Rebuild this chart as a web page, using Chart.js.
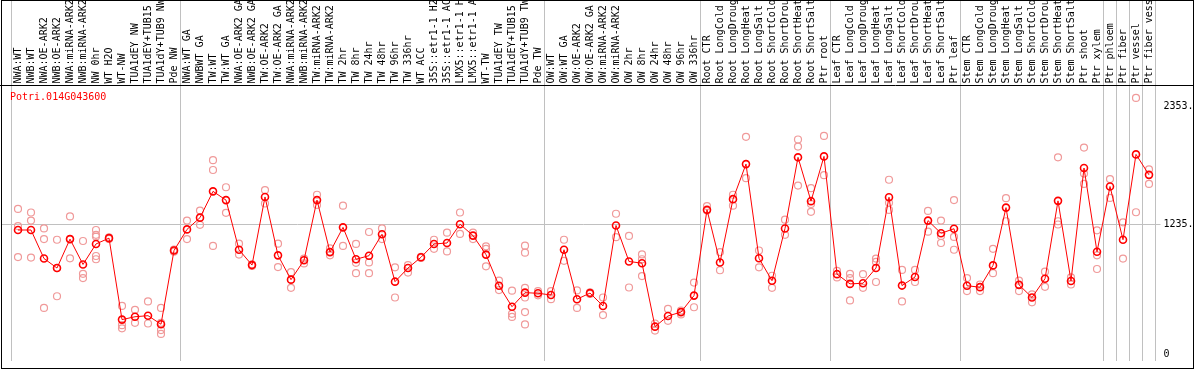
<!DOCTYPE html>
<html>
<head>
<meta charset="utf-8">
<script src="https://cdn.jsdelivr.net/npm/chart.js@4"></script>
<style>
  body { margin: 0; background: #fff; }
  canvas { display: block; }
</style>
</head>
<body>
<canvas id="expr-chart" width="1194" height="370"></canvas>
<script>
// sample labels, left to right
const samples = [
    'NWA:WT', 'NWB:WT', 'NWA:OE-ARK2', 'NWB:OE-ARK2', 'NWA:miRNA-ARK2', 'NWB:miRNA-ARK2', 'NW 0hr', 'WT H2O', 'WT-NW',
    'TUA1dEY NW', 'TUA1dEY+TUB15 NW', 'TUA1dY+TUB9 NW', 'Pde NW',
    'NWA:WT GA', 'NWBWT GA', 'TW:WT', 'TW:WT GA', 'NWA:OE-ARK2 GA', 'NWB:OE-ARK2 GA', 'TW:OE-ARK2', 'TW:OE-ARK2 GA',
    'NWA:miRNA-ARK2 GA', 'NWB:miRNA-ARK2 GA', 'TW:miRNA-ARK2', 'TW:miRNA-ARK2 GA', 'TW 2hr', 'TW 8hr', 'TW 24hr',
    'TW 48hr', 'TW 96hr', 'TW 336hr', 'WT ACC', '35S::etr1-1 H2O', '35S::etr1-1 ACC', 'LMX5::etr1-1 H2O',
    'LMX5::etr1-1 ACC', 'WT-TW', 'TUA1dEY TW', 'TUA1dEY+TUB15 TW', 'TUA1dY+TUB9 TW', 'Pde TW',
    'OW:WT', 'OW:WT GA', 'OW:OE-ARK2', 'OW:OE-ARK2 GA', 'OW:miRNA-ARK2', 'OW:miRNA-ARK2 GA', 'OW 2hr', 'OW 8hr',
    'OW 24hr', 'OW 48hr', 'OW 96hr', 'OW 336hr',
    'Root CTR', 'Root LongCold', 'Root LongDrought', 'Root LongHeat', 'Root LongSalt', 'Root ShortCold',
    'Root ShortDrought', 'Root ShortHeat', 'Root ShortSalt', 'Ptr root',
    'Leaf CTR', 'Leaf LongCold', 'Leaf LongDrought', 'Leaf LongHeat', 'Leaf LongSalt', 'Leaf ShortCold',
    'Leaf ShortDrought', 'Leaf ShortHeat', 'Leaf ShortSalt', 'Ptr leaf',
    'Stem CTR', 'Stem LongCold', 'Stem LongDrought', 'Stem LongHeat', 'Stem LongSalt', 'Stem ShortCold',
    'Stem ShortDrought', 'Stem ShortHeat', 'Stem ShortSalt', 'Ptr shoot', 'Ptr xylem',
    'Ptr phloem', 'Ptr fiber', 'Ptr vessel', 'Ptr fiber vessel'
];

// index of the first sample of each group (grey separators)
const groupStarts = [0, 13, 41, 53, 63, 73, 84, 85, 86, 87];

const geneName = 'Potri.014G043600';

// mean expression
const means = [
    1180, 1180, 910, 820, 1094, 854, 1048, 1103, 332, 359, 369, 288, 986,
    1186, 1297, 1546, 1463, 993, 848, 1493, 940, 710, 894, 1463, 971, 1205, 903, 937,
    1140, 691, 820, 922, 1048, 1057, 1235, 1127, 947, 652, 454, 587, 581,
    565, 993, 525, 583, 461, 1223, 882, 866, 265, 366, 403, 559,
    1371, 873, 1472, 1804, 912, 700, 1195, 1868, 1453, 1877,
    762, 670, 676, 820, 1490, 654, 735, 1269, 1149, 1192,
    652, 639, 845, 1392, 661, 541, 719, 1456, 698, 1767, 974,
    1592, 1088, 1896, 1702
];

// replicates
const rep1 = [
    1380, 1346, 1195, 1088, 1309, 1076, 1180, 1110, 461, 424, 504, 442, 990,
    1269, 1364, 1841, 1585, 1051, 848, 1558, 1051, 781, 910, 1514, 1007, 1410, 1048, 1161,
    1195, 827, 848, 925, 1088, 1155, 1346, 1155, 1026, 700, 606, 1032, 602,
    602, 1088, 608, 590, 541, 1334, 1124, 949, 295, 433, 418, 682,
    1407, 971, 1514, 2062, 986, 747, 1278, 2037, 1576, 2071,
    793, 765, 762, 910, 1656, 802, 802, 1361, 1269, 1463,
    725, 664, 1002, 1481, 700, 571, 786, 1868, 731, 1960, 1177,
    1662, 1253, 2430, 1754
];
const rep2 = [
    1217, 1269, 1094, 553, 912, 765, 1134, 1095, 279, 301, 295, 301, 975,
    1094, 1229, 1748, 1343, 947, 840, 1431, 829, 633, 864, 1417, 940, 1029, 869, 873,
    1094, 541, 777, 915, 1002, 977, 1143, 1094, 1002, 611, 387, 965, 562,
    525, 888, 442, 575, 375, 1112, 636, 903, 228, 320, 381, 449,
    1364, 799, 1410, 1671, 827, 633, 1134, 1970, 1426, 1699,
    731, 725, 633, 878, 1438, 504, 688, 1164, 1124, 1115,
    602, 602, 771, 1263, 602, 495, 642, 1263, 664, 1714, 940,
    1484, 910, 1348, 1616
];
const rep3 = [
    924, 919, 442, 820, 1094, 725, 1118, null, 249, null, null, 233, 995,
    null, null, 1029, null, null, 855, null, null, null, null, null, null, null, 771, 771,
    null, null, null, null, null, null, null, null, 836, null, 357, 633, null,
    null, null, null, null, null, null, null, 744, null, null, null, null,
    null, null, null, null, null, null, null, 1601, 1352, null,
    null, 513, null, 688, 1370, null, null, null, 1057, 993,
    null, null, null, null, null, null, null, 1232, null, 1616, 811,
    null, null, null, null
];
// a few samples with more replicates
const extraIdx = [6, 6, 11, 39, 39, 39];
const extraVal = [934, 903, 196, 541, 403, 286];

const yTicks = [0, 1235, 2353];
const yTickLabels = ['0', '1235.', '2353.'];

var monoFont = { family: "'DejaVu Sans Mono', 'Liberation Mono', monospace", size: 10 };
var grey = '#c0c0c0';
var pink = '#f09a9a';

function repDataset(data) {
    return {
        data: data,
        showLine: false,
        pointRadius: 3.5,
        pointBorderWidth: 1.2,
        pointBorderColor: pink,
        pointBackgroundColor: 'rgba(0,0,0,0)',
        yAxisID: 'y'
    };
}

// frame and gene name
var framePlugin = {
    id: 'frame',
    afterDraw(chart) {
        var ctx = chart.ctx;
        ctx.save();
        ctx.strokeStyle = '#000';
        ctx.lineWidth = 1;
        ctx.strokeRect(1.5, 0.5, 1192, 368);
        ctx.beginPath();
        ctx.moveTo(0, chart.chartArea.top);
        ctx.lineTo(1194, chart.chartArea.top);
        ctx.stroke();
        ctx.fillStyle = '#ff0000';
        ctx.font = "10px 'DejaVu Sans Mono'";
        ctx.textBaseline = 'middle';
        ctx.fillText(geneName, 10, chart.chartArea.top + 12);
        ctx.restore();
    }
};

function sparseGrid(ctx) {
    return ctx.tick && ctx.tick.value === 1235 ? grey : 'rgba(0,0,0,0)';
}

new Chart(document.getElementById('expr-chart'), {
    type: 'line',
    data: {
        labels: samples,
        datasets: [
            {
                data: means,
                borderColor: '#ff0000',
                borderWidth: 1,
                tension: 0,
                pointRadius: 3.5,
                pointBorderWidth: 1.6,
                pointBorderColor: '#ff0000',
                pointBackgroundColor: 'rgba(0,0,0,0)',
                yAxisID: 'y'
            },
            repDataset(rep1),
            repDataset(rep2),
            repDataset(rep3),
            repDataset(extraIdx.map((i, k) => ({ x: samples[i], y: extraVal[k] })))
        ]
    },
    options: {
        responsive: false,
        animation: false,
        devicePixelRatio: 1,
        layout: { padding: { left: 2, right: 0, top: 0, bottom: 1.5 } },
        plugins: {
            legend: { display: false },
            tooltip: { enabled: false }
        },
        scales: {
            x: {
                position: 'top',
                offset: true,
                border: { display: false },
                grid: {
                    offset: true,
                    tickLength: 86,
                    color: function (ctx) {
                        if (ctx.type === 'scale' || groupStarts.includes(ctx.index)) return grey;
                        return 'rgba(0,0,0,0)';
                    }
                },
                ticks: {
                    autoSkip: false,
                    minRotation: 90,
                    maxRotation: 90,
                    padding: -84,
                    labelOffset: 12,
                    color: '#000',
                    font: monoFont
                },
                afterFit: function (scale) { scale.height = 85.5; }
            },
            y: {
                position: 'right',
                min: -60,
                max: 2548,
                border: { display: false },
                afterBuildTicks: function (scale) { scale.ticks = yTicks.map(v => ({ value: v })); },
                grid: { color: sparseGrid, tickLength: 5 },
                ticks: {
                    padding: 3,
                    color: '#000',
                    font: monoFont,
                    callback: (v, i) => yTickLabels[i]
                },
                afterFit: function (scale) { scale.width = 38.5; }
            },
            yLeft: {
                position: 'left',
                min: -60,
                max: 2548,
                border: { display: false },
                afterBuildTicks: function (scale) { scale.ticks = yTicks.map(v => ({ value: v })); },
                grid: { color: sparseGrid, tickLength: 10, drawOnChartArea: false },
                ticks: { display: false },
                afterFit: function (scale) { scale.width = 9.5; }
            }
        }
    },
    plugins: [framePlugin]
});
</script>
</body>
</html>
